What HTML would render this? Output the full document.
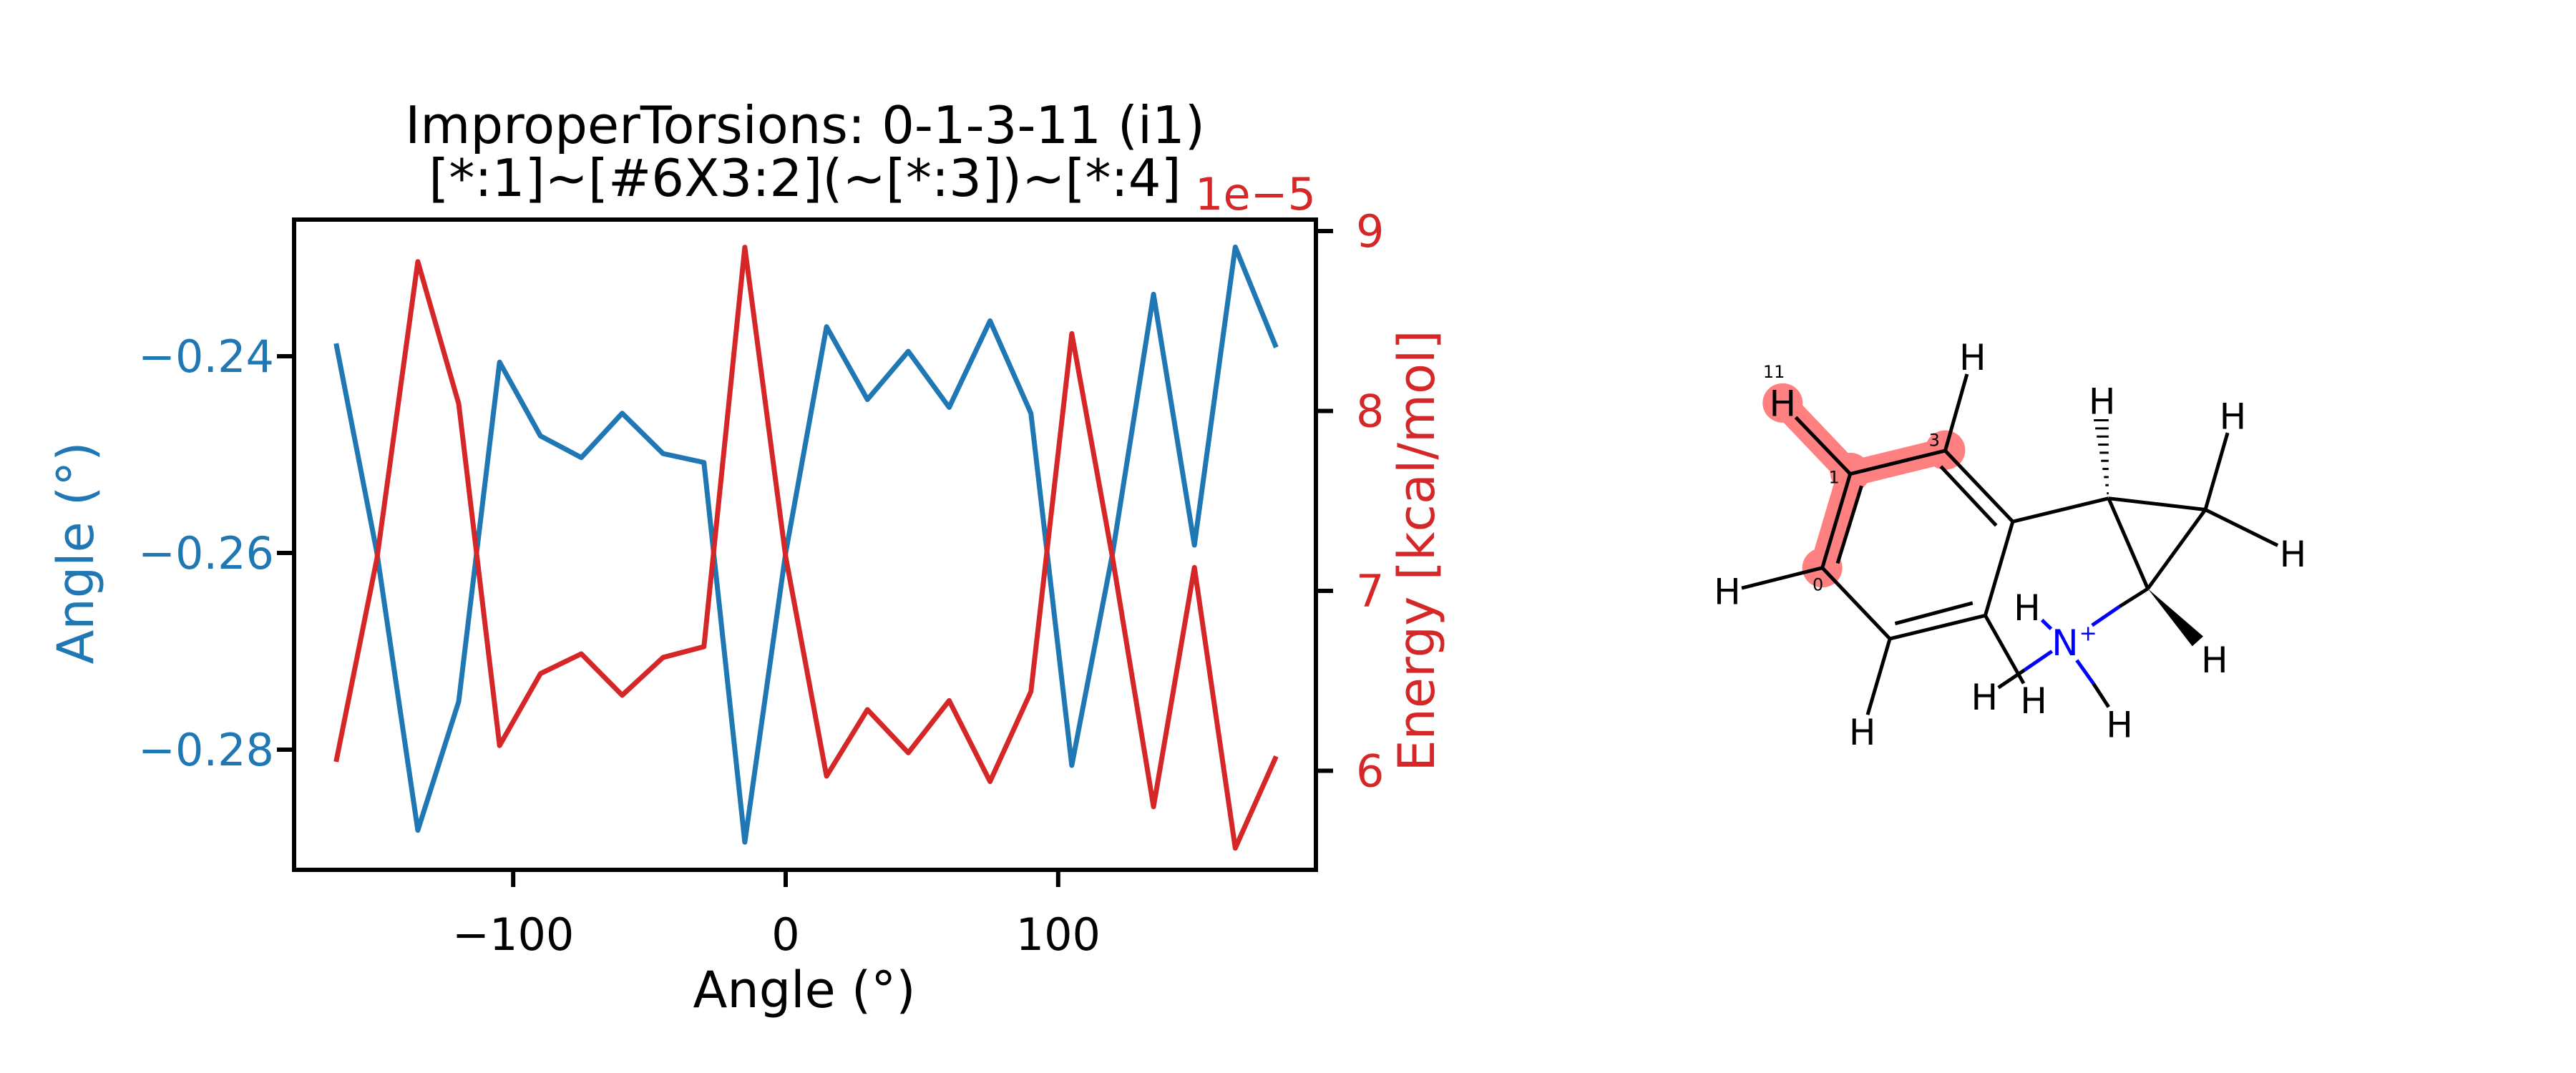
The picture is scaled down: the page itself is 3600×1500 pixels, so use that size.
<!DOCTYPE html>
<html><head><meta charset="utf-8"><style>
html,body{margin:0;padding:0;background:#fff;}
svg{display:block;font-family:"DejaVu Sans","Liberation Sans",sans-serif;}
</style></head><body>
<svg id="fig" width="3600" height="1500" viewBox="0 0 3600 1500" xmlns="http://www.w3.org/2000/svg">
<rect width="3600" height="1500" fill="#fff"/>
<g id="chart"></g>
<g id="mol" transform="translate(2350,450) scale(0.609,0.4167)">
  <g fill="#ff8080" stroke="#ff8080" stroke-linecap="round" stroke-width="36" vector-effect="non-scaling-stroke">
    <polyline points="232,272 387,510 605,432" fill="none" vector-effect="non-scaling-stroke"/>
    <line x1="387" y1="510" x2="323" y2="825" vector-effect="non-scaling-stroke"/>
    <ellipse cx="232" cy="272" rx="46" ry="66" stroke="none"/>
    <ellipse cx="387" cy="505" rx="46" ry="66" stroke="none"/>
    <ellipse cx="605" cy="430" rx="46" ry="66" stroke="none"/>
    <ellipse cx="323" cy="825" rx="46" ry="66" stroke="none"/>
  </g>
  <g stroke="#000" stroke-width="5" fill="none">
    <line x1="262" y1="320" x2="387" y2="510" vector-effect="non-scaling-stroke"/>
    <line x1="387" y1="510" x2="605" y2="432" vector-effect="non-scaling-stroke"/>
    <line x1="605" y1="432" x2="655" y2="175" vector-effect="non-scaling-stroke"/>
    <line x1="387" y1="510" x2="323" y2="825" vector-effect="non-scaling-stroke"/>
    <line x1="413" y1="550" x2="358" y2="810" vector-effect="non-scaling-stroke"/>
    <line x1="323" y1="825" x2="138" y2="893" vector-effect="non-scaling-stroke"/>
    <line x1="323" y1="825" x2="478" y2="1063" vector-effect="non-scaling-stroke"/>
    <line x1="478" y1="1063" x2="427" y2="1318" vector-effect="non-scaling-stroke"/>
    <line x1="478" y1="1063" x2="697" y2="985" vector-effect="non-scaling-stroke"/>
    <line x1="490" y1="1012" x2="668" y2="943" vector-effect="non-scaling-stroke"/>
    <line x1="697" y1="985" x2="760" y2="670" vector-effect="non-scaling-stroke"/>
    <line x1="605" y1="432" x2="760" y2="670" vector-effect="non-scaling-stroke"/>
    <line x1="595" y1="485" x2="722" y2="683" vector-effect="non-scaling-stroke"/>
    <line x1="760" y1="670" x2="980" y2="592" vector-effect="non-scaling-stroke"/>
    <line x1="980" y1="592" x2="1202" y2="630" vector-effect="non-scaling-stroke"/>
    <line x1="980" y1="592" x2="1070" y2="895" vector-effect="non-scaling-stroke"/>
    <line x1="1202" y1="630" x2="1070" y2="895" vector-effect="non-scaling-stroke"/>
    <line x1="1202" y1="630" x2="1253" y2="372" vector-effect="non-scaling-stroke"/>
    <line x1="1202" y1="630" x2="1368" y2="750" vector-effect="non-scaling-stroke"/>
    <line x1="697" y1="985" x2="785" y2="1213" vector-effect="non-scaling-stroke"/>
    <line x1="787" y1="1168" x2="727" y2="1227" vector-effect="non-scaling-stroke"/>
    <line x1="1005" y1="955" x2="1070" y2="895" vector-effect="non-scaling-stroke"/>
    <line x1="945" y1="1213" x2="980" y2="1292" vector-effect="non-scaling-stroke"/>
  </g>
  <g stroke="#0000ff" stroke-width="5">
    <line x1="850" y1="1105" x2="787" y2="1168" vector-effect="non-scaling-stroke"/>
    <line x1="942" y1="1018" x2="1005" y2="955" vector-effect="non-scaling-stroke"/>
    <line x1="907" y1="1135" x2="945" y2="1213" vector-effect="non-scaling-stroke"/>
    <line x1="827" y1="1000" x2="848" y2="1030" vector-effect="non-scaling-stroke"/>
  </g>
  <polygon points="1070,895 1197,1055 1172,1088" fill="#000"/>
  <g stroke="#000" stroke-width="3" id="hash"></g>
</g>
<g id="labels" font-size="50" text-anchor="middle"></g>
</svg>
<script>
const angles=[-165,-150,-135,-120,-105,-90,-75,-60,-45,-30,-15,0,15,30,45,60,75,90,105,120,135,150,165,180];
const angleValues=[-0.2387,-0.2600,-0.2882,-0.2751,-0.2406,-0.2481,-0.2503,-0.2458,-0.2499,-0.2508,-0.2894,-0.2600,-0.2370,-0.2444,-0.2395,-0.2452,-0.2364,-0.2458,-0.2816,-0.2600,-0.2337,-0.2592,-0.2289,-0.2391];
const energyValues=[6.05,7.18,8.83,8.04,6.14,6.54,6.65,6.42,6.63,6.69,8.91,7.19,5.97,6.34,6.10,6.39,5.94,6.44,8.43,7.18,5.80,7.13,5.57,6.08];
const xTicks=[-100,0,100];
const xTickLabels=["\u2212100","0","100"];
const leftTicks=[-0.24,-0.26,-0.28];
const leftTickLabels=["\u22120.24","\u22120.26","\u22120.28"];
const rightTicks=[6,7,8,9];
const rightTickLabels=["6","7","8","9"];

const NS="http://www.w3.org/2000/svg";
const g=document.getElementById('chart');
function mk(tag,attrs,parent){const e=document.createElementNS(NS,tag);for(const k in attrs)e.setAttribute(k,attrs[k]);(parent||g).appendChild(e);return e;}
const L=411,R=1839,T=307,B=1216;
const xs=v=>1098+v*3.808;
const yl=v=>773-(v+0.26)/0.02*275;
const yr=v=>826-(v-7)*251.5;
const BLUE="#1f77b4",RED="#d62728";

const bl=mk('polyline',{points:angles.map((a,i)=>xs(a)+','+yl(angleValues[i])).join(' '),fill:'none',stroke:BLUE,'stroke-width':7,'stroke-linejoin':'round'});


const rl=mk('polyline',{points:angles.map((a,i)=>xs(a)+','+yr(energyValues[i])).join(' '),fill:'none',stroke:RED,'stroke-width':7,'stroke-linejoin':'round'});



const frame=mk('rect',{x:L,y:T,width:R-L,height:B-T,fill:'none',stroke:'#000','stroke-width':6});



xTicks.forEach((v,i)=>{
  const t=mk('line',{x1:xs(v),x2:xs(v),y1:B,y2:B+24,stroke:'#000','stroke-width':6});
  
  
  const tx=mk('text',{x:xs(v),y:1328,'font-size':62,'text-anchor':'middle',fill:'#000'});
  tx.textContent=xTickLabels[i];
  
  
});
leftTicks.forEach((v,i)=>{
  const t=mk('line',{x1:L-24,x2:L,y1:yl(v),y2:yl(v),stroke:'#000','stroke-width':6});
  
  
  const tx=mk('text',{x:383,y:yl(v)+22,'font-size':62,'text-anchor':'end',fill:BLUE});
  tx.textContent=leftTickLabels[i];
  
  
});
rightTicks.forEach((v,i)=>{
  const t=mk('line',{x1:R,x2:R+24,y1:yr(v),y2:yr(v),stroke:'#000','stroke-width':6});
  
  
  const tx=mk('text',{x:1895,y:yr(v)+22,'font-size':62,'text-anchor':'start',fill:RED});
  tx.textContent=rightTickLabels[i];
  
  
});
function label(txt,attrs,name,parent){const e=mk('text',attrs,parent);e.textContent=txt;return e;}
label('ImproperTorsions: 0-1-3-11 (i1)',{x:1125,y:200,'font-size':72,'text-anchor':'middle'},'title-line-1');
label('[*:1]~[#6X3:2](~[*:3])~[*:4]',{x:1125,y:274,'font-size':72,'text-anchor':'middle'},'title-line-2');
label('1e\u22125',{x:1839,y:293,'font-size':62,'text-anchor':'end',fill:RED},'offset-label');
label('Angle (\u00b0)',{x:1124,y:1408,'font-size':70,'text-anchor':'middle'},'x-axis-title');
label('Angle (\u00b0)',{x:0,y:0,'font-size':70,'text-anchor':'middle',fill:BLUE,transform:'translate(130,773) rotate(-90)'},'left-y-axis-title');
label('Energy [kcal/mol]',{x:0,y:0,'font-size':70,'text-anchor':'middle',fill:RED,transform:'translate(2004,770) rotate(-90)'},'right-y-axis-title');

// hashed bond
const hg=document.getElementById('hash');
for(let k=0;k<10;k++){
  const f=k/9;const y=575-f*245;const x=978-f*15;const w=4+f*30;
  const ln=mk('line',{x1:x-w/2,x2:x+w/2,y1:y,y2:y,'vector-effect':'non-scaling-stroke'},hg);
  
  
}
// atom labels (zoom coords -> page coords)
const lg=document.getElementById('labels');
const mx=x=>2350+x*0.609, my=y=>450+y*0.4167;
const atomLabels=[["H",232,272],["H",668,118],["H",965,265],["H",1265,315],["H",1403,777],["H",105,903],["H",415,1375],["H",793,958],["H",695,1257],["H",808,1270],["H",1005,1350],["H",1223,1133]];
atomLabels.forEach(a=>{label(a[0],{x:mx(a[1]),y:my(a[2])+18},'atom-label-h',lg);});
label('N',{x:mx(880),y:my(1075)+18,fill:'#0000ff'},'atom-label-n',lg);
label('+',{x:mx(933),y:my(1050)+8,fill:'#0000ff','font-size':30},'charge-label',lg);
[["11",212,165],["1",350,520],["3",580,395],["0",313,880]].forEach(a=>{label(a[0],{x:mx(a[1]),y:my(a[2])+9,'font-size':24},'atom-index',lg);});
</script>
</body></html>
